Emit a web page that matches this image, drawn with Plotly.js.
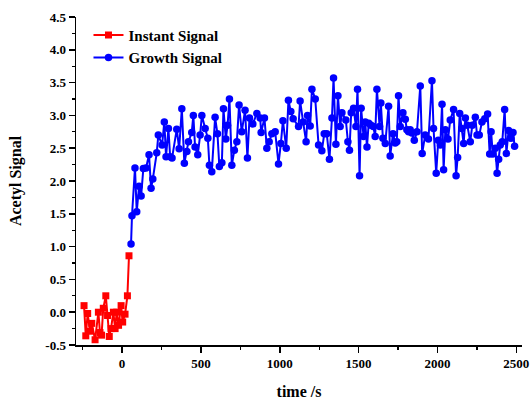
<!DOCTYPE html>
<html><head><meta charset="utf-8">
<script src="https://cdn.plot.ly/plotly-3.0.1.min.js"></script>
<style>body{margin:0;background:#fff}#c{width:530px;height:402px}</style>
</head><body><div id="c"></div>
<script>
const instantTime = [-241,-230,-218,-203,-192,-171,-150,-140,-130,-119,-103,-92,-81,-70,-55,-44,-34,-22,-6,4,19,34,44];
const instantSignal = [0.10,-0.36,-0.02,-0.29,-0.17,-0.42,0.00,-0.31,-0.35,0.06,0.25,-0.05,-0.37,-0.25,0.00,-0.25,0.00,-0.20,0.10,-0.15,-0.03,0.25,0.86];

const growthTime = [57,63,82,93,108,121,135,152,171,184,195,220,230,254,268,279,294,305,317,347,362,379,395,411,421,442,452,463,480,495,506,527,544,554,569,590,605,617,633,643,658,669,681,696,712,728,742,759,780,795,808,829,855,876,882,903,918,933,950,971,992,1007,1020,1041,1055,1070,1085,1119,1129,1148,1167,1176,1193,1204,1225,1246,1267,1282,1298,1315,1331,1341,1356,1369,1383,1394,1419,1432,1442,1453,1468,1483,1493,1506,1516,1531,1542,1553,1564,1578,1593,1605,1616,1633,1641,1654,1669,1690,1700,1718,1732,1742,1753,1764,1781,1796,1806,1817,1827,1838,1853,1870,1891,1903,1922,1943,1965,1975,1992,2005,2018,2029,2039,2050,2067,2081,2102,2118,2128,2141,2154,2166,2177,2189,2208,2221,2240,2251,2265,2282,2300,2318,2331,2340,2351,2367,2378,2388,2398,2411,2426,2437,2451,2466,2479,2489];
const growthSignal = [1.04,1.47,2.20,1.53,1.92,1.77,2.19,2.20,2.40,1.89,2.03,2.43,2.70,2.55,2.90,2.37,2.80,2.37,2.35,2.79,2.49,3.10,2.27,2.45,2.60,2.74,3.00,2.52,2.40,2.70,3.00,2.80,2.65,2.24,2.14,2.97,2.72,2.22,2.28,3.10,2.64,2.85,3.25,2.24,2.47,2.60,3.16,2.75,3.08,2.35,2.96,2.87,3.03,2.96,2.74,2.96,2.50,2.60,2.72,2.75,2.26,2.57,2.92,2.50,3.23,3.06,2.95,2.83,3.22,2.90,2.60,3.00,2.84,3.40,3.25,2.55,2.46,2.72,2.72,2.33,2.96,3.57,2.56,3.30,2.83,3.04,2.93,2.60,2.47,3.04,3.11,2.83,3.40,2.08,3.11,2.68,2.90,2.52,2.88,2.85,2.83,2.68,3.40,2.83,3.19,2.65,2.57,3.14,2.38,2.72,2.58,2.60,3.30,2.83,3.04,2.94,2.78,2.75,2.78,2.73,2.62,2.75,3.45,2.42,2.70,2.64,3.53,2.80,2.12,2.62,2.55,3.17,2.17,2.78,2.64,2.93,3.09,2.08,2.36,3.03,2.80,2.57,2.96,2.85,2.60,2.85,2.97,2.70,2.70,2.90,2.95,3.02,2.41,2.75,2.41,2.50,2.12,2.33,2.55,2.60,3.09,2.42,2.77,2.65,2.74,2.53];

const yTickVals = [-0.5,0.0,0.5,1.0,1.5,2.0,2.5,3.0,3.5,4.0,4.5];
const yTickText = ['-0.5','0.0','0.5','1.0','1.5','2.0','2.5','3.0','3.5','4.0','4.5'];
const xTickVals = [0,500,1000,1500,2000,2500];
const xTickText = ['0','500','1000','1500','2000','2500'];

const serif = 'Liberation Serif, Times New Roman, serif';
const traces = [
  {x: instantTime, y: instantSignal, name: 'Instant Signal', type: 'scatter', mode: 'lines+markers',
   line: {color: '#ff0000', width: 2}, marker: {symbol: 'square', size: 7, color: '#ff0000'}},
  {x: growthTime, y: growthSignal, name: 'Growth Signal', type: 'scatter', mode: 'lines+markers',
   line: {color: '#0000ff', width: 2}, marker: {symbol: 'circle', size: 7.5, color: '#0000ff'}}
];
const layout = {
  width: 530, height: 402,
  margin: {l: 76, r: 8, t: 17, b: 57},
  paper_bgcolor: '#fff', plot_bgcolor: '#fff',
  font: {family: serif, size: 13, color: '#000', weight: 'bold'},
  showlegend: true,
  legend: {x: 0.028, y: 0.995, xanchor: 'left', yanchor: 'top', bgcolor: 'rgba(0,0,0,0)',
           font: {family: serif, size: 15, color: '#000', weight: 'bold'}, tracegroupgap: 0},
  xaxis: {range: [-292, 2536], showgrid: false, zeroline: false, showline: true, linecolor: '#000', linewidth: 1.5,
          ticks: 'outside', ticklen: 6, tickwidth: 1.5, tickcolor: '#000',
          tickvals: xTickVals, ticktext: xTickText,
          tickfont: {family: serif, size: 13, color: '#000', weight: 'bold'},
          minor: {tickvals: [-250,250,750,1250,1750,2250], ticks: 'outside', ticklen: 3, tickwidth: 1.2, tickcolor: '#000'},
          title: {text: 'time /s', font: {family: serif, size: 16, color: '#000', weight: 'bold'}, standoff: 15}},
  yaxis: {range: [-0.5, 4.5], showgrid: false, zeroline: false, showline: true, linecolor: '#000', linewidth: 1.5,
          ticks: 'outside', ticklen: 6, tickwidth: 1.5, tickcolor: '#000',
          tickvals: yTickVals, ticktext: yTickText,
          tickfont: {family: serif, size: 13, color: '#000', weight: 'bold'},
          minor: {tickvals: [-0.25,0.25,0.75,1.25,1.75,2.25,2.75,3.25,3.75,4.25], ticks: 'outside', ticklen: 3, tickwidth: 1.2, tickcolor: '#000'},
          title: {text: 'Acetyl Signal', font: {family: serif, size: 16, color: '#000', weight: 'bold'}, standoff: 19}}
};
Plotly.newPlot('c', traces, layout, {displayModeBar: false, staticPlot: true});
</script></body></html>
